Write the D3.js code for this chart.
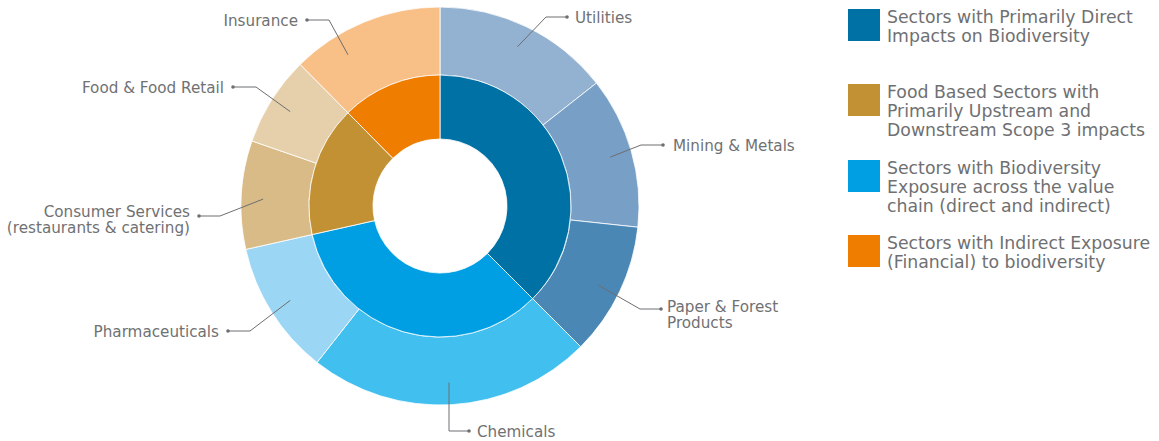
<!DOCTYPE html>
<html>
<head>
<meta charset="utf-8">
<script src="https://cdn.jsdelivr.net/npm/d3@7"></script>
<style>
  html, body { margin: 0; padding: 0; background: #ffffff; }
  svg { display: block; }
  text { font-family: "DejaVu Sans", "Noto Sans", sans-serif; }
</style>
</head>
<body>
<svg id="chart" width="1159" height="441"></svg>
<script>
// Sectors (outer ring), clockwise from 12 o'clock
const sectors = ["Utilities", "Mining & Metals", "Paper & Forest Products", "Chemicals",
                 "Pharmaceuticals", "Consumer Services (restaurants & catering)",
                 "Food & Food Retail", "Insurance"];
const sectorShare = [14.4, 12.3, 10.8, 23.1, 10.9, 8.8, 7.3, 12.4];
const sectorGroup = [0, 0, 0, 2, 2, 1, 1, 3];
const sectorColors = ["#93b1d0", "#789fc6", "#4a87b5", "#41bfee",
                      "#9bd6f5", "#d9bb87", "#e6d0ab", "#f8bf87"];

// Exposure groups (inner ring)
const groups = ["Sectors with Primarily Direct Impacts on Biodiversity",
                "Food Based Sectors with Primarily Upstream and Downstream Scope 3 impacts",
                "Sectors with Biodiversity Exposure across the value chain (direct and indirect)",
                "Sectors with Indirect Exposure (Financial) to biodiversity"];
const groupColors = ["#0071a4", "#c29134", "#009fe3", "#ef7d00"];
const innerOrder = [0, 2, 1, 3];   // ring order, clockwise from the top

// Legend text broken into lines
const legendLines = [
  ["Sectors with Primarily Direct", "Impacts on Biodiversity"],
  ["Food Based Sectors with", "Primarily Upstream and", "Downstream Scope 3 impacts"],
  ["Sectors with Biodiversity", "Exposure across the value", "chain (direct and indirect)"],
  ["Sectors with Indirect Exposure", "(Financial) to biodiversity"]
];
const legendOrder = [0, 1, 2, 3];

// Sector label lines and placement of each callout
const labelLines = [["Utilities"], ["Mining & Metals"], ["Paper & Forest", "Products"], ["Chemicals"],
                    ["Pharmaceuticals"], ["Consumer Services", "(restaurants & catering)"],
                    ["Food & Food Retail"], ["Insurance"]];
const labelLayout = [
  { side: "right", x: 567, y: 17,  elbow: 546, nudge: 0 },
  { side: "right", x: 663, y: 145, elbow: 641, nudge: 0, gap: 10 },
  { side: "right", x: 661, y: 309, elbow: 640, nudge: 1, dy: -3, gap: 6 },
  { side: "right", x: 469, y: 431, elbow: 449, nudge: 0, vertical: true },
  { side: "left",  x: 228, y: 331, elbow: 250, nudge: 0 },
  { side: "left",  x: 199, y: 216, elbow: 220, nudge: -1, dy: -5 },
  { side: "left",  x: 233, y: 87,  elbow: 256, nudge: 0 },
  { side: "left",  x: 307, y: 20,  elbow: 329, nudge: -9 }
];

const svg = d3.select("#chart");
const cx = 440, cy = 206;
const rHole = 67, rMid = 131, rOuter = 199, rCallout = 177;

const g = svg.append("g").attr("transform", `translate(${cx},${cy})`);

// Inner ring totals from the sector shares
const groupTotals = groups.map((_, gi) =>
  d3.sum(sectorShare.filter((_, i) => sectorGroup[i] === gi)));

const pie = d3.pie().sort(null).value(d => d.v);

const outerData = pie(sectors.map((s, i) => ({ i, v: sectorShare[i] })));
const innerData = pie(innerOrder.map(gi => ({ gi, v: groupTotals[gi] })));

const outerArc = d3.arc().innerRadius(rMid).outerRadius(rOuter);
const innerArc = d3.arc().innerRadius(rHole).outerRadius(rMid);

g.selectAll("path.outer").data(outerData).join("path")
  .attr("class", "outer")
  .attr("d", outerArc)
  .attr("fill", d => sectorColors[d.data.i])
  .attr("stroke", "#ffffff").attr("stroke-width", 0.8);

g.selectAll("path.inner").data(innerData).join("path")
  .attr("class", "inner")
  .attr("d", innerArc)
  .attr("fill", d => groupColors[d.data.gi])
  .attr("stroke", "#ffffff").attr("stroke-width", 0.8);

// Callouts
const labelColor = "#707173";
const lbl = svg.append("g");
outerData.forEach((d, i) => {
  const L = labelLayout[i];
  const a = (d.startAngle + d.endAngle) / 2 + L.nudge * Math.PI / 180;
  const ex = cx + rCallout * Math.sin(a), ey = cy - rCallout * Math.cos(a);
  const pts = L.vertical
    ? [[L.x, L.y], [L.elbow, L.y], [L.elbow, ey]]
    : [[L.x, L.y], [L.elbow, L.y], [ex, ey]];
  lbl.append("path")
    .attr("d", d3.line()(pts))
    .attr("fill", "none").attr("stroke", "#6d6e70").attr("stroke-width", 1);
  lbl.append("circle").attr("cx", L.x).attr("cy", L.y).attr("r", 1.8).attr("fill", "#6d6e70");
  const gap = L.gap || (L.side === "right" ? 8 : 9);
  const tx = L.side === "right" ? L.x + gap : L.x - gap;
  labelLines[i].forEach((ln, k) => {
    lbl.append("text")
      .attr("x", tx).attr("y", L.y + (L.dy || 0) + 5.5 + k * 16.5)
      .attr("text-anchor", L.side === "right" ? "start" : "end")
      .attr("font-size", 15.2).attr("fill", labelColor)
      .text(ln);
  });
});

// Legend
const leg = svg.append("g");
const legendTop = [9, 84, 160, 235];
legendOrder.forEach((gi, k) => {
  const y = legendTop[k];
  leg.append("rect").attr("x", 848).attr("y", y).attr("width", 32).attr("height", 32)
    .attr("fill", groupColors[gi]);
  legendLines[gi].forEach((ln, j) => {
    leg.append("text")
      .attr("x", 887).attr("y", y + 14 + j * 18.8)
      .attr("font-size", 17.3).attr("fill", "#6f7072")
      .text(ln);
  });
});
</script>
</body>
</html>
